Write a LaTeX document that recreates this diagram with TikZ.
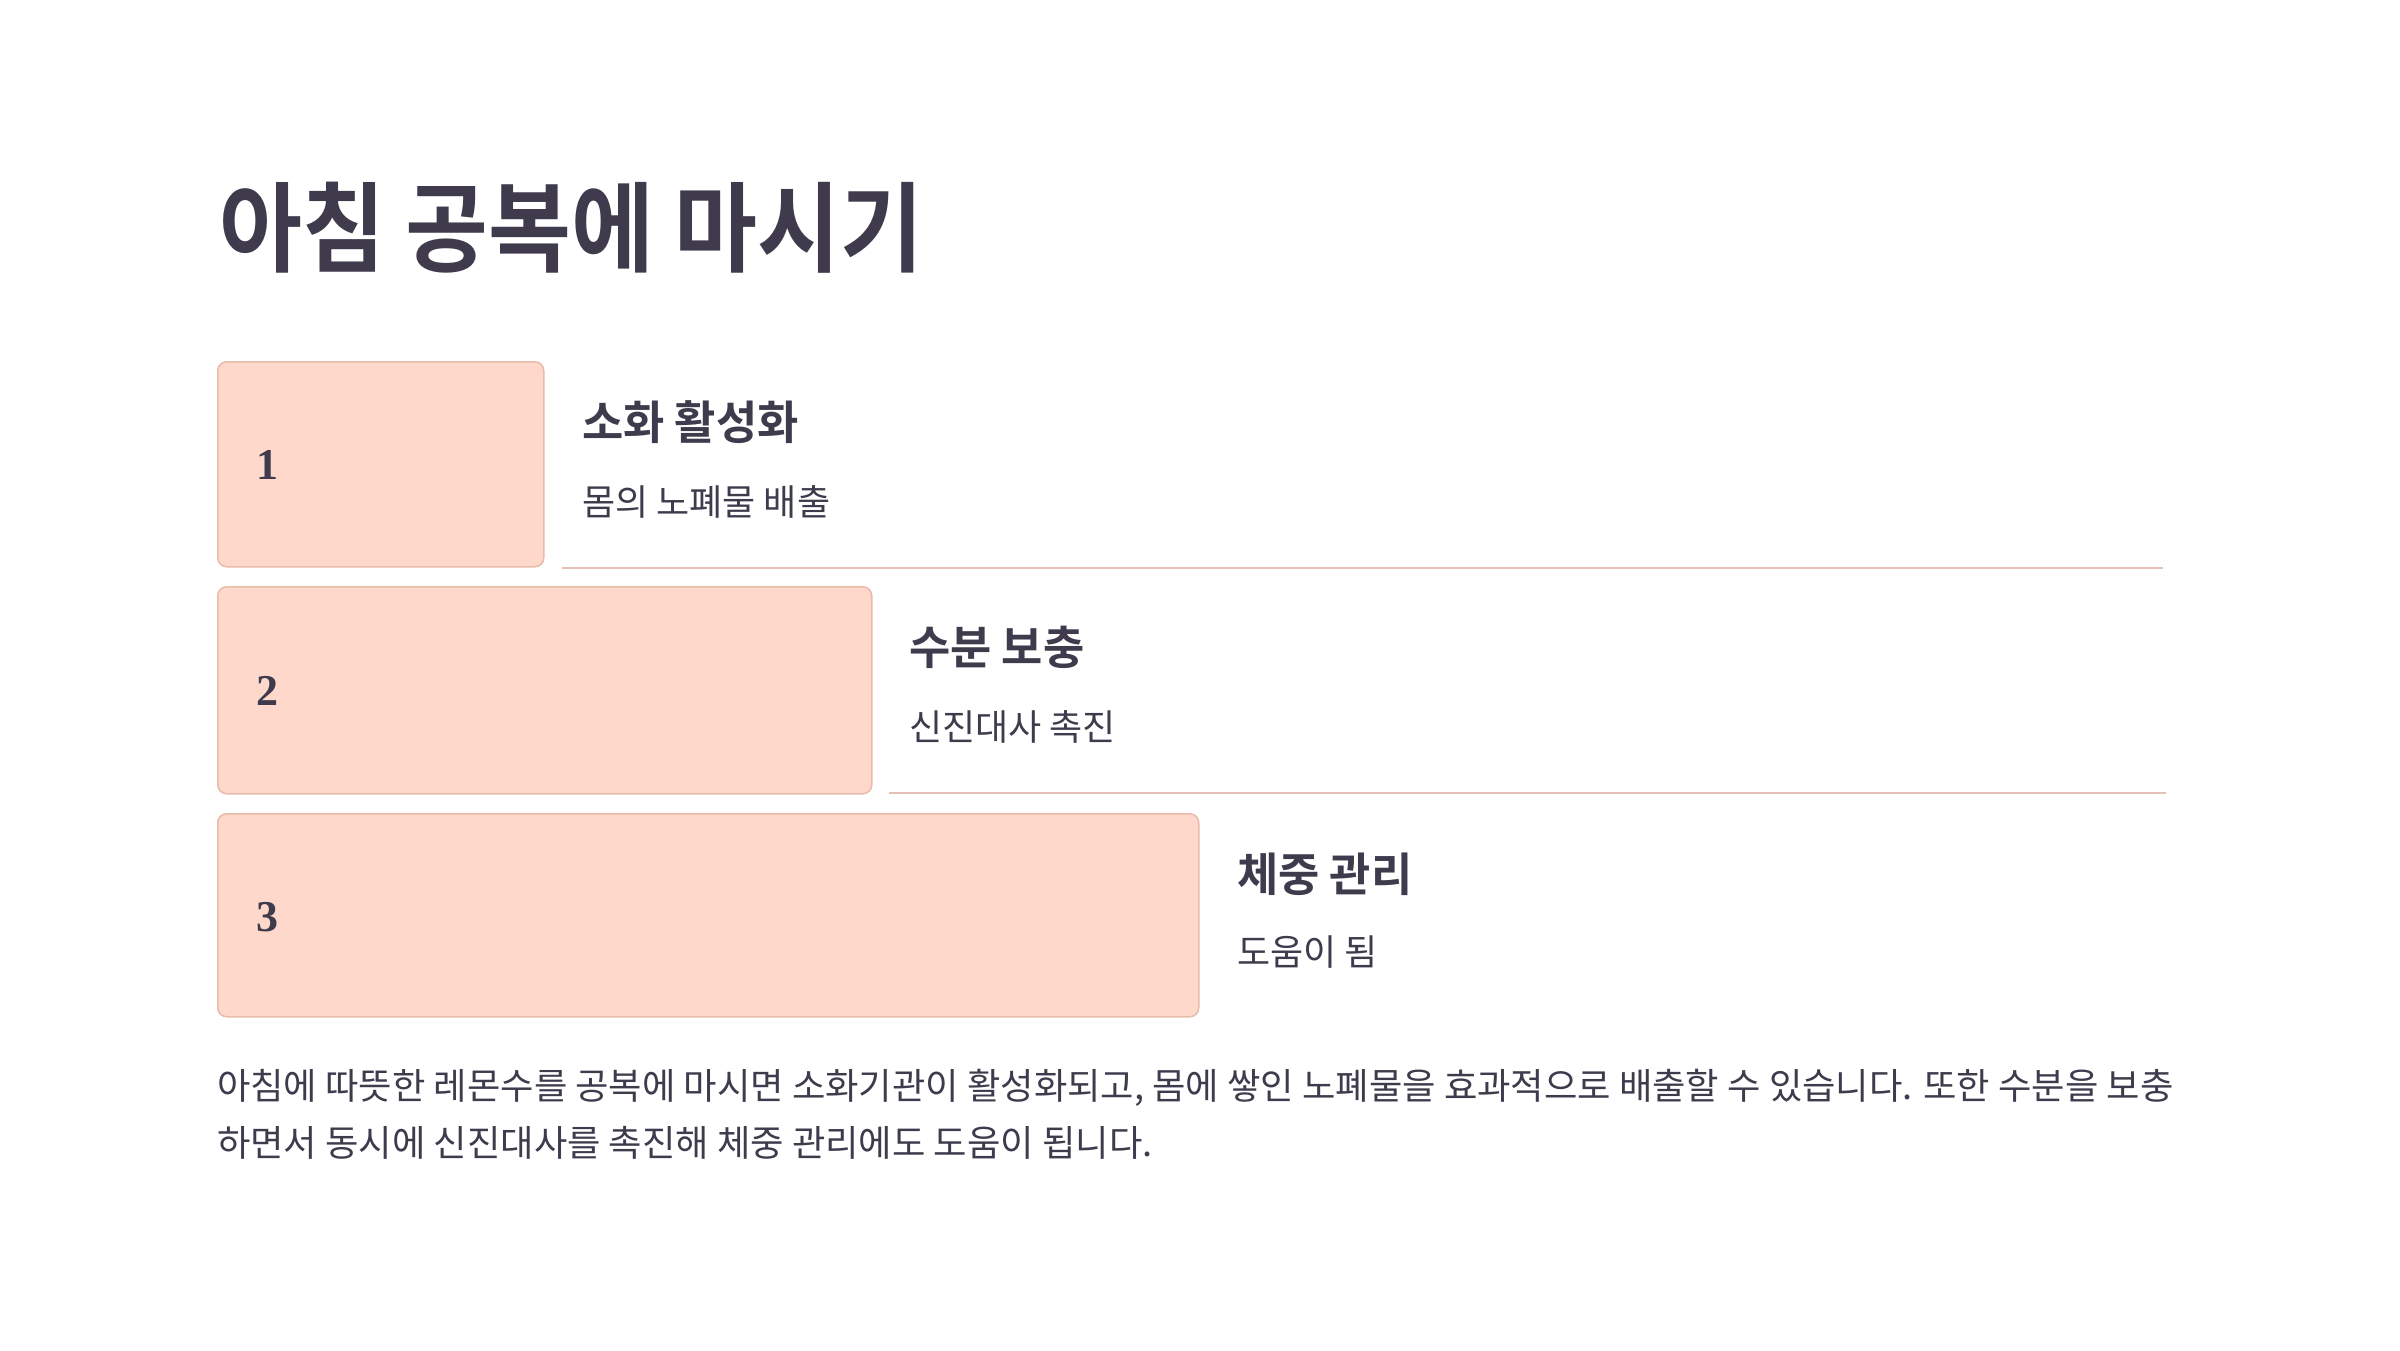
\documentclass[tikz,border=0pt]{standalone}
\usepackage{fontspec}
\setmainfont{Noto Sans CJK KR}[BoldFont={Noto Sans CJK KR Bold}]
\newfontfamily\titlefont{Noto Sans CJK KR Bold}[FakeStretch=0.92]
\newfontfamily\headfont{Noto Sans CJK KR Bold}[FakeStretch=0.975]
\newfontfamily\subfont{Noto Sans CJK KR}
\newfontfamily\numfont{Liberation Serif Bold}
\definecolor{ink}{HTML}{3F3B4D}
\definecolor{boxfill}{HTML}{FDD8CB}
\definecolor{boxline}{HTML}{E9BBAA}
\definecolor{sepline}{HTML}{E6C0B6}
\begin{document}
\begin{tikzpicture}[x=1pt,y=-1pt,
  numbox/.style={draw=boxline, fill=boxfill, line width=1.5pt, rounded corners=9pt, anchor=north west, inner sep=0pt},
  numtxt/.style={anchor=west, inner sep=0pt, text=ink, font=\numfont\fontsize{44}{50}\selectfont},
  headtxt/.style={anchor=west, inner sep=0pt, text=ink, font=\headfont\fontsize{46}{52}\selectfont},
  subtxt/.style={anchor=west, inner sep=0pt, text=ink, font=\subfont\fontsize{36}{42}\selectfont},
  bodytxt/.style={anchor=west, inner sep=0pt, text=ink, font=\fontsize{36.3}{42}\selectfont},
  sepl/.style={draw=sepline, line width=2pt}]
\useasboundingbox (0,0) rectangle (2400,1350);
\fill[white] (0,0) rectangle (2400,1350);
\node[anchor=west, inner sep=0pt, text=ink, font=\titlefont\fontsize{98}{110}\selectfont] (title) at (219,228) {아침 공복에 마시기};
% boxes
\node[numbox, minimum width=326pt, minimum height=205pt] (b1) at (217,361) {};
\node[numbox, minimum width=654pt, minimum height=207pt] (b2) at (217,586) {};
\node[numbox, minimum width=981pt, minimum height=203pt] (b3) at (217,813) {};
\node[numtxt] (n1) at (256,465) {1};
\node[numtxt] (n2) at (256,691) {2};
\node[numtxt] (n3) at (256,917) {3};
% texts
\node[headtxt] (h1) at (582,422) {소화 활성화};
\node[subtxt] (s1) at (582,502) {몸의 노폐물 배출};
\node[headtxt] (h2) at (909,647) {수분 보충};
\node[subtxt] (s2) at (909,727) {신진대사 촉진};
\node[headtxt] (h3) at (1237,874) {체중 관리};
\node[subtxt] (s3) at (1237,952) {도움이 됨};
% separators
\coordinate (l1s) at (562,568); \coordinate (l1e) at (2163,568);
\coordinate (l2s) at (889,793); \coordinate (l2e) at (2166,793);
\draw[sepl] (l1s) -- (l1e);
\draw[sepl] (l2s) -- (l2e);
% paragraph
\node[bodytxt] (p1) at (217,1088) {아침에 따뜻한 레몬수를 공복에 마시면 소화기관이 활성화되고, 몸에 쌓인 노폐물을 효과적으로 배출할 수 있습니다. 또한 수분을 보충};
\node[bodytxt] (p2) at (217,1143) {하면서 동시에 신진대사를 촉진해 체중 관리에도 도움이 됩니다.};
\end{tikzpicture}
\end{document}
